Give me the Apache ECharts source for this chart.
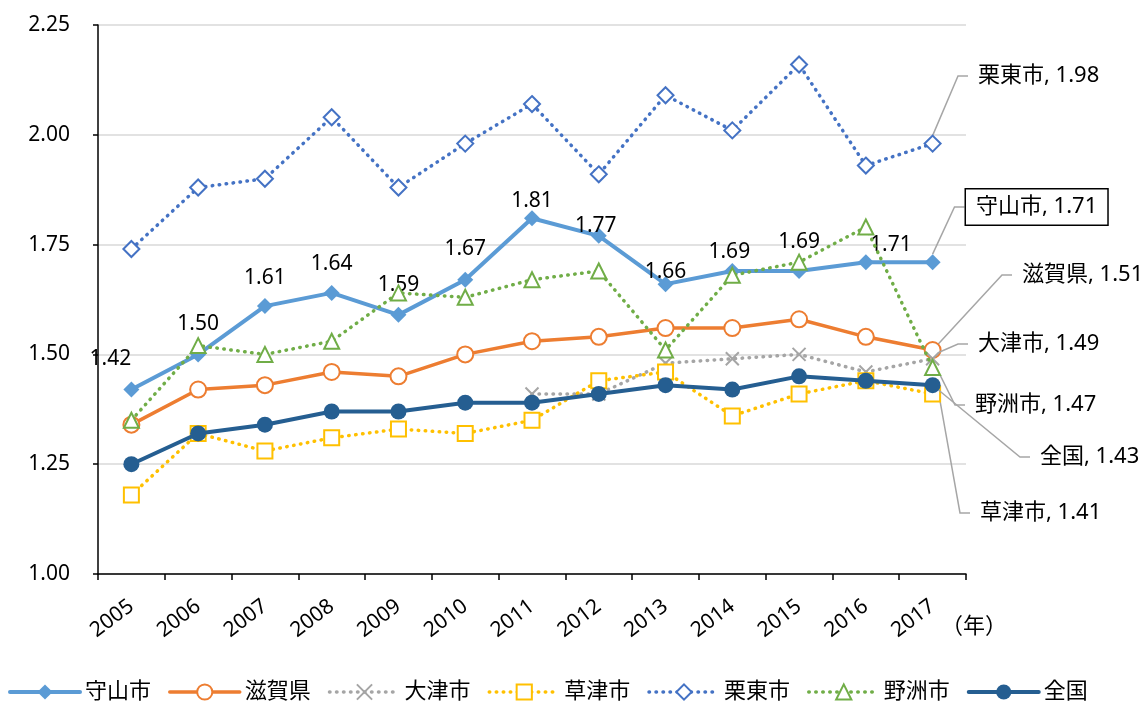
<!DOCTYPE html>
<html><head><meta charset="utf-8">
<script src="https://cdn.jsdelivr.net/npm/echarts@6/dist/echarts.min.js"></script>
<style>html,body{margin:0;padding:0;background:#fff}#c{width:1148px;height:702px}</style>
</head><body><div id="c"></div>
<script>
const years = ['2005','2006','2007','2008','2009','2010','2011','2012','2013','2014','2015','2016','2017'];
const moriyama = [1.42,1.50,1.61,1.64,1.59,1.67,1.81,1.77,1.66,1.69,1.69,1.71,1.71];
const shiga    = [1.34,1.42,1.43,1.46,1.45,1.50,1.53,1.54,1.56,1.56,1.58,1.54,1.51];
const otsu     = [null,null,null,null,null,null,1.41,1.41,1.48,1.49,1.50,1.46,1.49];
const kusatsu  = [1.18,1.32,1.28,1.31,1.33,1.32,1.35,1.44,1.46,1.36,1.41,1.44,1.41];
const ritto    = [1.74,1.88,1.90,2.04,1.88,1.98,2.07,1.91,2.09,2.01,2.16,1.93,1.98];
const yasu     = [1.35,1.52,1.50,1.53,1.64,1.63,1.67,1.69,1.51,1.68,1.71,1.79,1.47];
const zenkoku  = [1.25,1.32,1.34,1.37,1.37,1.39,1.39,1.41,1.43,1.42,1.45,1.44,1.43];
const yMin = 1.00, yMax = 2.25, yStep = 0.25;
const yearUnit = '（年）';

const FONT = '"Noto Sans", "Noto Sans CJK JP", sans-serif';
const LAST = years.length - 1;
const DOT = [0.5, 6.5];

// callout label positions (left edge x, centre y) in pixels
const callout = {
  '栗東市': [968, 76],
  '守山市': [966, 207],
  '滋賀県': [1012, 275],
  '大津市': [968, 344],
  '野洲市': [965, 405],
  '全国':   [1030, 457],
  '草津市': [970, 513]
};
// manual nudges of the 守山市 value labels (as placed in the original chart)
const moriLabelNudge = [[-21,-4],[0,-4],[0,-2],[0,-2],[0,-3],[0,-4],[0,9],[-3,17],[0,14],[-3,8],[0,-2],[25,9],[0,0]];

function buildData(name, values, boxed) {
  return values.map((v, i) => {
    if (i !== LAST) return v;
    return {
      value: v,
      label: {
        show: true,
        position: 'right',
        formatter: name + ', ' + v.toFixed(2),
        fontSize: 22,
        fontFamily: FONT,
        color: '#000',
        padding: boxed ? [7, 10, 6, 10] : [4, 4, 4, 10],
        borderColor: boxed ? '#000' : 'transparent',
        borderWidth: boxed ? 1.5 : 0,
        backgroundColor: boxed ? '#fff' : 'transparent'
      },
      labelLine: {
        show: true,
        length2: 10,
        lineStyle: { color: '#A6A6A6', width: 1.5 }
      }
    };
  });
}

function calloutLayout(name, extra) {
  return function (p) {
    if (p.dataIndex === LAST) {
      const c = callout[name];
      return { x: c[0], y: c[1], align: 'left', verticalAlign: 'middle' };
    }
    return extra ? extra(p) : {};
  };
}

function series(name, values, color, opt) {
  return Object.assign({
    name: name,
    type: 'line',
    data: buildData(name, values, opt.boxed),
    symbol: opt.symbol,
    symbolSize: opt.symbolSize,
    showAllSymbol: true,
    connectNulls: false,
    lineStyle: { color: color, width: opt.width, type: opt.dotted ? DOT : 'solid', cap: 'round' },
    itemStyle: opt.hollow
      ? { color: opt.fill || '#fff', borderColor: color, borderWidth: 2 }
      : { color: color, borderColor: color, borderWidth: 0 },
    label: { show: false },
    labelLayout: calloutLayout(name, opt.layoutExtra),
    emphasis: { disabled: true },
    animation: false,
    z: opt.z
  }, opt.extra || {});
}

const xSym = 'path://M0,0L10,10M10,0L0,10';

const s = [
  series('守山市', moriyama, '#5B9BD5', {
    symbol: 'diamond', symbolSize: 16, width: 4, z: 2,
    boxed: true,
    extra: {
      label: {
        show: true, position: 'top', distance: 8,
        formatter: p => Number(p.value).toFixed(2),
        fontSize: 21, fontFamily: FONT, color: '#000'
      }
    },
    layoutExtra: p => {
      const n = moriLabelNudge[p.dataIndex];
      return { dx: n[0], dy: n[1] };
    }
  }),
  series('滋賀県', shiga, '#ED7D31', { symbol: 'circle', symbolSize: 16, width: 3.5, hollow: true, z: 3 }),
  series('大津市', otsu, '#A5A5A5', { symbol: xSym, symbolSize: 13, width: 3.5, dotted: true, hollow: true, fill: 'none', z: 4 }),
  series('草津市', kusatsu, '#FFC000', { symbol: 'rect', symbolSize: 15, width: 3.5, dotted: true, hollow: true, z: 5 }),
  series('栗東市', ritto, '#4472C4', { symbol: 'diamond', symbolSize: 16, width: 3.5, dotted: true, hollow: true, z: 6 }),
  series('野洲市', yasu, '#70AD47', { symbol: 'triangle', symbolSize: 15, width: 3.5, dotted: true, hollow: true, z: 7 }),
  series('全国', zenkoku, '#255E91', { symbol: 'circle', symbolSize: 16, width: 4, z: 8 })
];

const chart = echarts.init(document.getElementById('c'), null, { renderer: 'canvas' });
chart.setOption({
  backgroundColor: '#fff',
  animation: false,
  textStyle: { fontFamily: FONT },
  grid: { left: 98, right: 182, top: 25, bottom: 128, containLabel: false },
  legend: {
    data: s.map(x => ({ name: x.name, lineStyle: { width: x.lineStyle.width } })),
    left: 3, top: 676,
    itemWidth: 70, itemHeight: 19, itemGap: 17,
    textStyle: { fontSize: 22, fontFamily: FONT, color: '#000' },
    selectedMode: false
  },
  xAxis: {
    type: 'category',
    data: years,
    boundaryGap: true,
    name: yearUnit,
    nameLocation: 'end',
    nameGap: -25,
    nameTextStyle: { fontSize: 22, fontFamily: FONT, color: '#000', verticalAlign: 'top', padding: [42, 0, 0, 0] },
    axisLine: { show: true, lineStyle: { color: '#000', width: 1.5 } },
    axisTick: { show: true, length: 6, lineStyle: { color: '#000', width: 1.5 } },
    axisLabel: { rotate: 37, margin: 30, fontSize: 21, fontFamily: FONT, color: '#000', interval: 0 },
    splitLine: { show: false }
  },
  yAxis: {
    type: 'value',
    min: yMin, max: yMax, interval: yStep,
    axisLine: { show: true, lineStyle: { color: '#000', width: 1.5 } },
    axisTick: { show: true, length: 5, lineStyle: { color: '#000', width: 1.5 } },
    axisLabel: { formatter: v => v.toFixed(2), fontSize: 21, fontFamily: FONT, color: '#000', margin: 28 },
    splitLine: { show: true, lineStyle: { color: '#D9D9D9', width: 1.5 } }
  },
  series: s
});
</script></body></html>
